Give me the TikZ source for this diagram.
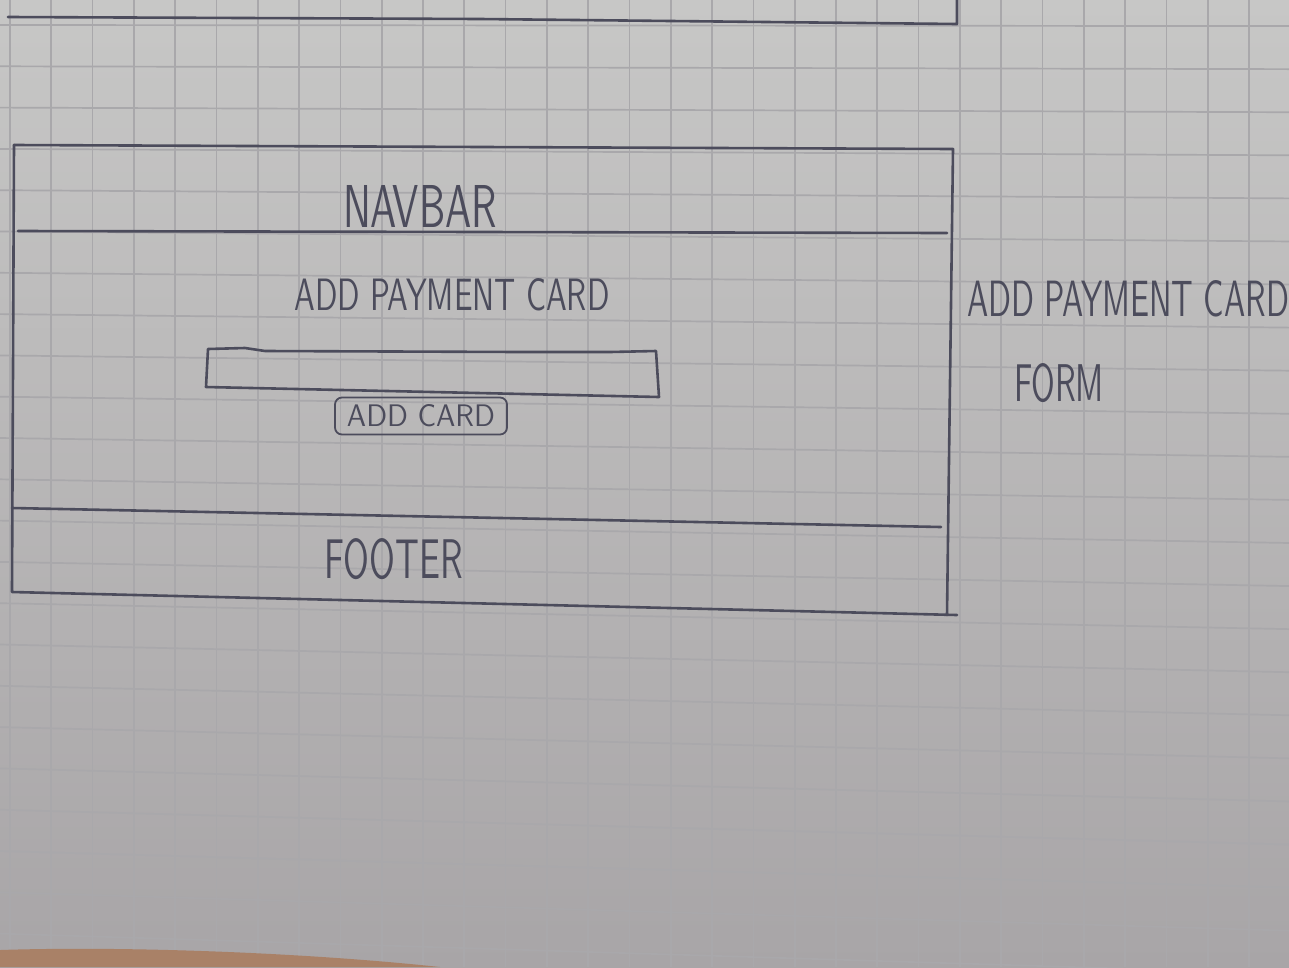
\documentclass[tikz,border=0pt]{standalone}
\usepackage{graphicx}
\definecolor{paperTop}{HTML}{C7C7C6}
\definecolor{paperMid}{HTML}{CDCCCC}
\definecolor{paperBot}{HTML}{A8A5A7}
\definecolor{gridc}{HTML}{A9A8AB}
\definecolor{inkc}{HTML}{4C4C5C}
\definecolor{skin}{HTML}{A98167}
% hand-lettered caption squeezed into a given width and cap height
\newcommand{\sketchtext}[3]{\resizebox{#1}{#2}{\sffamily #3}}
\begin{document}
\begin{tikzpicture}[x=1pt,y=-1pt,
  gridline/.style={draw=gridc, line width=1.7pt},
  ink/.style={draw=inkc, line width=2.6pt, line cap=round, line join=round},
  caption/.style={inner sep=0pt, text=inkc}]
\useasboundingbox (0,0) rectangle (1289,967);

% paper with its squared ruling
\shade[top color=paperTop, middle color=paperMid, bottom color=paperBot] (0,0) rectangle (1289,967);
\foreach \i in {0,...,31}
  \draw[gridline] ({10+41.3*\i},0) -- ({10+41.3*\i},967);
\foreach \j in {0,...,23}
  \draw[gridline] (0,{25+41.3*\j}) -- (1289,{(25+41.3*\j)*1.043});

% corner of the table under the sheet
\fill[skin] (0,950) .. controls (120,946) and (300,952) .. (440,967) -- (0,967) -- cycle;

% lower edge of the previous page sketch
\draw[ink] (8,17) -- (480,19) -- (957,24) -- (957,0);

% page frame
\draw[ink] (14,145) -- (953,149) -- (947,615);
\draw[ink] (14,145) -- (12,592) -- (957,615);
% navbar and footer separators
\draw[ink] (18,231) -- (947,233);
\draw[ink] (12,508) -- (941,527);

% card number input field
\draw[ink] (208,349) -- (245,348) -- (265,351) -- (520,352) -- (610,352) -- (656,351)
  -- (659,397) -- (206,387) -- cycle;

% labels
\node[caption] (navbar) at (420,206) {\sketchtext{154pt}{42pt}{NAVBAR}};
\node[caption] (title) at (452,295) {\sketchtext{315pt}{32pt}{ADD PAYMENT CARD}};
\node[caption, draw=inkc, line width=1.8pt, rounded corners=7pt,
      minimum width=172pt, minimum height=37pt] (addcard) at (421,416)
      {\sketchtext{148pt}{22pt}{ADD CARD}};
\node[caption] (footer) at (394,559) {\sketchtext{138pt}{40pt}{FOOTER}};
\node[caption] (sidetitle) at (1128,299) {\sketchtext{322pt}{36pt}{ADD PAYMENT CARD}};
\node[caption] (sideform) at (1059,383) {\sketchtext{90pt}{38pt}{FORM}};
\end{tikzpicture}
\end{document}
